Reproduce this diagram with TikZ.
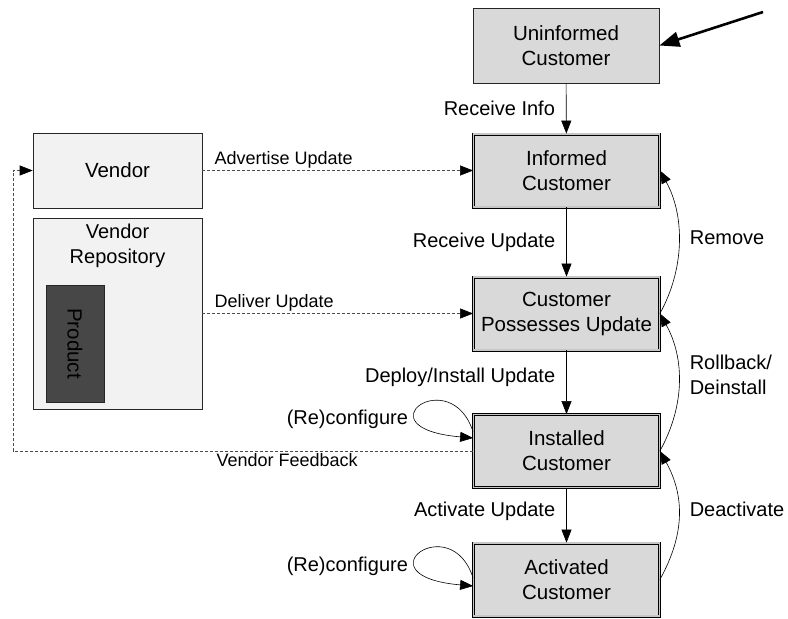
\documentclass[tikz,border=0pt]{standalone}
\usepackage{fontspec}
\setmainfont{Liberation Sans}
\usetikzlibrary{arrows.meta}

\begin{document}
\begin{tikzpicture}[
    x=1pt, y=-1pt,
    startstate/.style={rectangle, draw=black!85, line width=0.8pt, fill=gray!30,
        minimum width=186pt, minimum height=75pt, inner sep=2pt, align=center,
        font=\fontsize{20.5}{25}\selectfont},
    state/.style={startstate, draw=black, double=gray!45, double distance=1.4pt,
        line width=0.8pt, minimum width=186pt, minimum height=73pt},
    vendorbox/.style={rectangle, draw=black!85, line width=0.6pt, fill=gray!10,
        minimum width=169pt, inner sep=2pt, align=center,
        font=\fontsize{20.5}{25}\selectfont},
    productbox/.style={rectangle, draw=black!85, line width=0.6pt, fill=black!72,
        inner sep=2pt, font=\fontsize{20.5}{25}\selectfont},
    flow/.style={-{Triangle[length=13pt,width=10pt,color=black]}, line width=0.6pt},
    feed/.style={flow, draw=black!70, dash pattern=on 3pt off 2pt},
    lbl/.style={font=\fontsize{20}{25}\selectfont, inner sep=2pt},
    small/.style={font=\fontsize{18}{22}\selectfont, inner sep=2pt}
]
    \useasboundingbox (0,0) rectangle (788,619);

    % customer states
    \node[startstate] (uninf) at (566,45.5) {Uninformed\\Customer};
    \node[state] (inf) at (566.5,170.5) {Informed\\Customer};
    \node[state] (poss) at (566.5,313.5) {Customer\\Possesses Update};
    \node[state] (inst) at (566.5,451) {Installed\\Customer};
    \node[state] (act) at (566.5,579.5) {Activated\\Customer};

    % vendor side
    \node[vendorbox, minimum height=75pt] (vendor) at (117.5,170.5) {Vendor};
    \node[vendorbox, minimum height=191pt] (repo) at (117.5,313.5) {};
    \node[lbl, align=center] (repotitle) at (117.5,246) {Vendor\\Repository};
    \node[productbox, rotate=-90, minimum width=117pt, minimum height=58pt]
        (product) at (75,343.5) {Product};

    \coordinate (entry) at (763,12);
    \coordinate (loopback) at (13,451);

    % entry arrow
    \draw[line width=2.6pt, -{Triangle[length=20pt,width=15pt]}] (entry) -- (uninf.east);

    % forward transitions
    \draw[flow] (uninf) -- node[lbl, left=9pt] {Receive Info} (inf);
    \draw[flow] (inf) -- node[lbl, left=9pt] {Receive Update} (poss);
    \draw[flow] (poss) -- node[lbl, left=9pt, pos=0.42] {Deploy/Install Update} (inst);
    \draw[flow] (inst) -- node[lbl, left=9pt, pos=0.42] {Activate Update} (act);

    % backward transitions
    \draw[flow] (poss.east) .. controls +(25,-45) and +(25,45) ..
        node[lbl, right=9pt, pos=0.53] {Remove} (inf.east);
    \draw[flow] (inst.east) .. controls +(25,-45) and +(25,45) ..
        node[lbl, right=9pt, pos=0.55, align=left] {Rollback/\\Deinstall} (poss.east);
    \draw[flow] (act.east) .. controls +(25,-45) and +(25,45) ..
        node[lbl, right=9pt, pos=0.55] {Deactivate} (inst.east);

    % reconfiguration loops
    \draw[flow] ([yshift=19pt]inst.west) .. controls +(-22,-70) and +(-115,-10) ..
        node[lbl, left=8pt, pos=0.7] {(Re)configure} ([yshift=13pt]inst.west);
    \draw[flow] ([yshift=1.5pt]act.west) .. controls +(-22,-70) and +(-115,-10) ..
        node[lbl, left=8pt, pos=0.7] {(Re)configure} ([yshift=-6.5pt]act.west);

    % vendor communication
    \draw[feed] (vendor) -- node[small, above, pos=0.3] {Advertise Update} (inf);
    \draw[feed] (repo) -- node[small, above, pos=0.265] {Deliver Update} (poss);
    \draw[feed] (inst.west) -- node[small, below, pos=0.404] {Vendor Feedback} (loopback)
        |- (vendor.west);
\end{tikzpicture}
\end{document}
